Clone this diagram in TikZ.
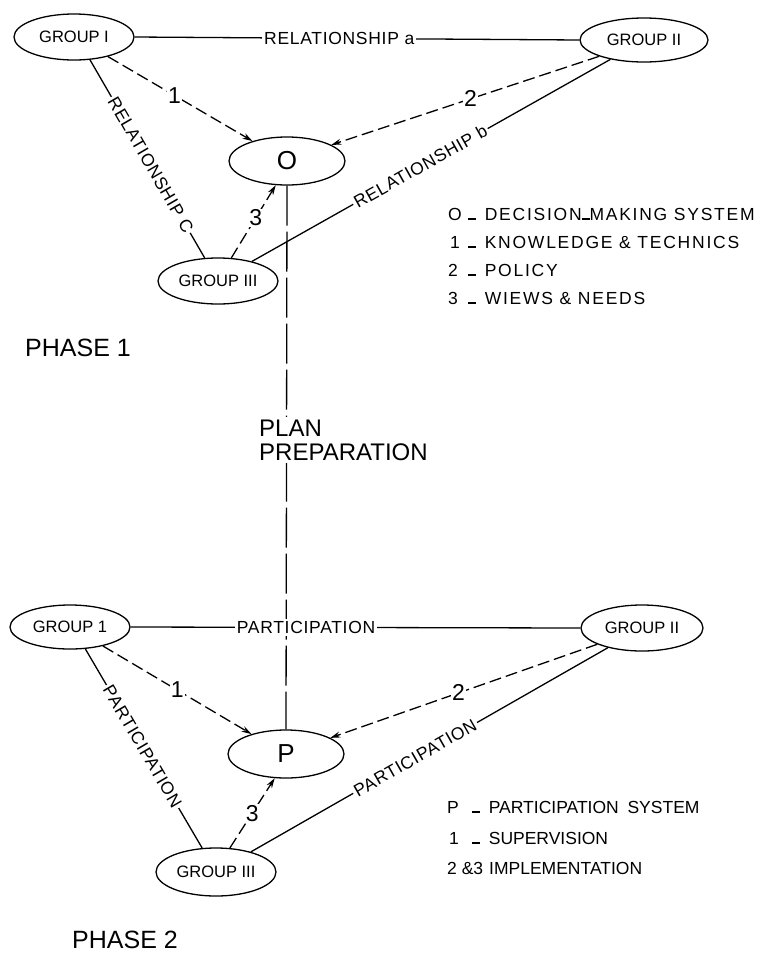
\documentclass[tikz,border=0pt]{standalone}
\usepackage{fontspec}
\setmainfont{Liberation Sans}
\usetikzlibrary{shapes.geometric,arrows.meta}
% short dash sitting on the baseline, as used in the keys
\newcommand\lowdash{\rule[0pt]{0.45em}{0.09em}}
\tikzset{
  grp/.style={draw, ellipse, line width=1.3pt, minimum width=120pt,
    minimum height=46pt, inner sep=0pt, font=\fontsize{16.5}{16.5}\selectfont},
  sysnode/.style={draw, ellipse, line width=1.3pt, minimum width=116pt,
    minimum height=48pt, inner sep=0pt, font=\fontsize{26}{26}\selectfont},
  link/.style={line width=1.3pt},
  flow/.style={line width=1.3pt, dash pattern=on 12pt off 5pt,
    -{Stealth[length=10pt,width=6pt]}},
  tag/.style={fill=white, inner sep=2pt,
    font=\fontsize{17.5}{17.5}\selectfont\addfontfeatures{LetterSpace=4}},
  num/.style={fill=white, inner sep=1pt, font=\fontsize{23}{23}\selectfont},
  keytext/.style={anchor=west, inner sep=0pt, font=\fontsize{17.5}{17.5}\selectfont},
  phase/.style={anchor=west, inner sep=0pt, font=\fontsize{25}{25}\selectfont},
}
\begin{document}
\begin{tikzpicture}[x=1pt,y=-1pt]
\fill[white] (0,0) rectangle (768,956);
\useasboundingbox (0,0) rectangle (768,956);

% ---------- phase 1 : decision making ----------
\node[grp] (g1a) at (74,37) {GROUP I};
\node[grp, minimum width=128pt, minimum height=44pt] (g2a) at (644,40) {GROUP II};
\node[sysnode] (oa) at (287,161) {O};
\node[grp] (g3a) at (218,281) {GROUP III};

% ---------- phase 2 : participation ----------
\node[grp, minimum height=44pt] (g1b) at (70,627) {GROUP 1};
\node[grp, minimum width=122pt] (g2b) at (642,628) {GROUP II};
\node[sysnode] (pb) at (286,754) {P};
\node[grp, minimum height=48pt] (g3b) at (216,872) {GROUP III};

% plan preparation link between the two systems
\draw[link, dash pattern=on 40pt off 6pt] (oa.south) -- (pb.north);
\node[anchor=west, fill=white, inner sep=3pt, align=left,
  font=\fontsize{24}{24}\selectfont] (plan) at (256,440) {PLAN\\PREPARATION};

% phase 1 connectors
\draw[link] (g1a.east) -- node[tag, pos=0.46] (ra) {RELATIONSHIP a} (g2a.west);
\draw[flow] (g1a.-30) -- node[num, pos=0.46] (n1a) {1} (oa.150);
\draw[flow] (g2a.200) -- node[num, pos=0.48] (n2a) {2} (oa.20);
\draw[link] (g1a.-55) -- node[tag, sloped, pos=0.53] (rc) {RELATIONSHIP C} (g3a.120);
\draw[link] (g3a.30) -- node[tag, sloped, pos=0.47] (rb) {RELATIONSHIP b} (g2a.210);
\draw[flow] (g3a.60) -- node[num, pos=0.55] (n3a) {3} (oa.245);

% phase 2 connectors
\draw[link] (g1b.east) -- node[tag, pos=0.39] (pa) {PARTICIPATION} (g2b.west);
\draw[flow] (g1b.-30) -- node[num, pos=0.5] (n1b) {1} (pb.150);
\draw[flow] (g2b.200) -- node[num, pos=0.52] (n2b) {2} (pb.20);
\draw[link] (g1b.-55) -- node[tag, sloped, pos=0.49] (pc) {PARTICIPATION} (g3b.120);
\draw[link] (g3b.30) -- node[tag, sloped, pos=0.46] (pbl) {PARTICIPATION} (g2b.210);
\draw[flow] (g3b.60) -- node[num, pos=0.5] (n3b) {3} (pb.245);

% phase titles
\node[phase] (ph1) at (25,348) {PHASE 1};
\node[phase] (ph2) at (72,940) {PHASE 2};

% key of phase 1
\begin{scope}[every node/.append style={keytext}]
\node (k1o) at (448,214) {O};
\node (t1o) at (468,214) {\addfontfeatures{LetterSpace=10}\lowdash\enspace DECISION\lowdash MAKING SYSTEM};
\node (k11) at (450,242) {1};
\node (t11) at (468,242) {\addfontfeatures{LetterSpace=10}\lowdash\enspace KNOWLEDGE \& TECHNICS};
\node (k12) at (448,270) {2};
\node (t12) at (468,270) {\addfontfeatures{LetterSpace=10}\lowdash\enspace POLICY};
\node (k13) at (448,298) {3};
\node (t13) at (468,298) {\addfontfeatures{LetterSpace=10}\lowdash\enspace WIEWS \& NEEDS};
% key of phase 2
\node (k2p) at (447,807) {P};
\node (t2p) at (472,807) {\lowdash\enspace PARTICIPATION\enspace SYSTEM};
\node (k21) at (449,838) {1};
\node (t21) at (472,838) {\lowdash\enspace SUPERVISION};
\node (k23) at (447,868) {2 \&3};
\node (t23) at (489,868) {IMPLEMENTATION};
\end{scope}
\end{tikzpicture}
\end{document}
